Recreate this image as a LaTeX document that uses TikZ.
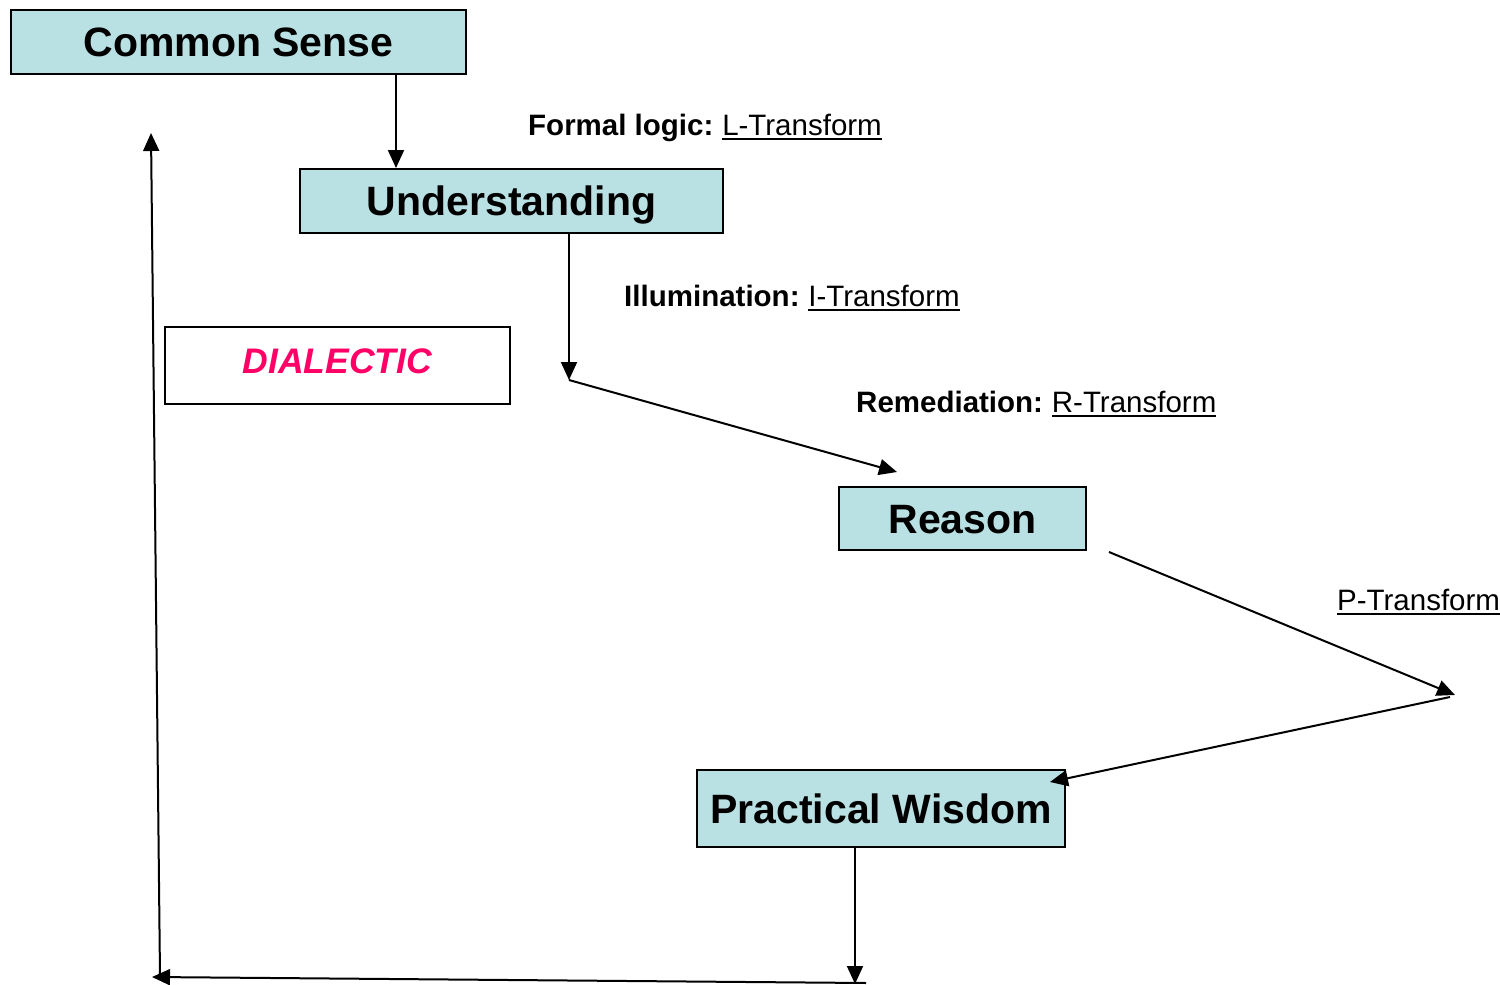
\documentclass[tikz,border=0pt]{standalone}
\usepackage{fontspec}
\setmainfont{Liberation Sans}
\usetikzlibrary{arrows.meta}

\definecolor{boxfill}{RGB}{185,224,226}
\definecolor{dialpink}{RGB}{255,0,102}

% underline with a fixed rule below the baseline
\newcommand{\ulinetext}[1]{\setbox0\hbox{#1}\rlap{\rule[-4.5pt]{\wd0}{2pt}}\box0}

\tikzset{
  stagebox/.style={rectangle, draw=black, line width=2pt, fill=boxfill, inner sep=0pt,
    font=\fontsize{41}{49}\selectfont\bfseries, text height=29.4pt, text depth=0pt},
  dialbox/.style={rectangle, draw=black, line width=2pt, fill=white, inner sep=0pt,
    text=dialpink, font=\fontsize{35.5}{42}\selectfont\bfseries\itshape,
    text height=25.4pt, text depth=10pt},
  translabel/.style={anchor=base west, inner sep=0pt, font=\fontsize{29.5}{35}\selectfont},
  arr/.style={line width=2pt, -{Triangle[length=18pt,width=16pt]}},
}

\begin{document}
\begin{tikzpicture}[x=1pt, y=-1pt]
\useasboundingbox (0,0) rectangle (1500,985);

% stages
\node[stagebox, minimum width=455pt, minimum height=64pt] (cs)  at (238.5,42)   {Common Sense};
\node[stagebox, minimum width=423pt, minimum height=64pt] (und) at (511.5,201)  {Understanding};
\node[stagebox, minimum width=247pt, minimum height=63pt] (rea) at (962.5,518.5) {Reason};
\node[stagebox, minimum width=368pt, minimum height=77pt] (pw)  at (881,808.5)  {Practical Wisdom};
\node[dialbox,  minimum width=345pt, minimum height=77pt] (dial) at (337.5,365.5) {DIALECTIC};

% transform labels
\node[translabel] (lform) at (528,135)  {\textbf{Formal logic:}\hspace{0.3em}\ulinetext{L-Transform}};
\node[translabel] (lillu) at (624,306)  {\textbf{Illumination:}\hspace{0.3em}\ulinetext{I-Transform}};
\node[translabel] (lreme) at (856,412)  {\textbf{Remediation:}\hspace{0.3em}\ulinetext{R-Transform}};
\node[translabel] (lprac) at (1337,610) {\ulinetext{P-Transform}};

% connector end points
\coordinate (csx)   at (396,0);
\coordinate (undx)  at (569,0);
\coordinate (ubend) at (569,380);
\coordinate (rtip)  at (897,472);
\coordinate (pstart) at (1109,552);
\coordinate (ptip)  at (1455,695);
\coordinate (pback) at (1450,697);
\coordinate (pwtip) at (1050,782);
\coordinate (pwx)   at (855,0);
\coordinate (btip)  at (855,984);
\coordinate (bstart) at (866,983);
\coordinate (bend)  at (152,977);
\coordinate (lstart) at (160,976);
\coordinate (ltip)  at (151,133);

% transforms
\draw[arr] (cs.south -| csx) -- (und.north -| csx);
\draw[arr] (und.south -| undx) -- (ubend);
\draw[arr] (ubend) -- (rtip);
\draw[arr] (pstart) -- (ptip);
\draw[arr] (pback) -- (pwtip);
\draw[arr] (pw.south -| pwx) -- (btip);
\draw[arr] (bstart) -- (bend);
\draw[arr] (lstart) -- (ltip);
\end{tikzpicture}
\end{document}
